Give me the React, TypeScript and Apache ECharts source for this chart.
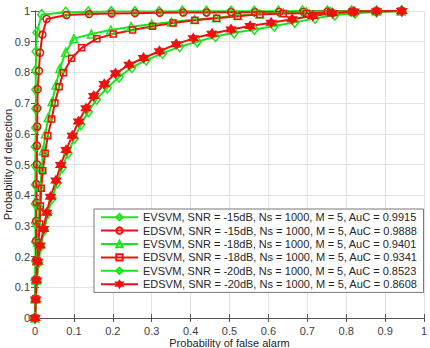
import React, { useEffect, useRef } from "react";
import * as echarts from "echarts";

// ROC curves: probability of false alarm (x) vs probability of detection (y)
const pfaEv15 = [0, 0, 0, 0.001, 0.001, 0.001, 0.001, 0.001, 0.001, 0.001, 0.002, 0.002, 0.002, 0.002, 0.003, 0.005, 0.017, 0.079, 0.137, 0.196, 0.257, 0.319, 0.379, 0.441, 0.504, 0.564, 0.626, 0.688, 0.752, 0.814, 0.878, 0.943];
const pdEv15 = [0, 0.062, 0.124, 0.186, 0.248, 0.31, 0.372, 0.434, 0.496, 0.558, 0.62, 0.682, 0.744, 0.806, 0.868, 0.93, 0.988, 0.996, 0.997, 0.998, 0.998, 0.998, 0.999, 0.999, 0.999, 0.999, 0.999, 1, 1, 1, 1, 1];

const pfaEd15 = [0, 0.001, 0.002, 0.003, 0.003, 0.003, 0.004, 0.004, 0.005, 0.005, 0.006, 0.006, 0.007, 0.01, 0.013, 0.019, 0.03, 0.081, 0.139, 0.197, 0.257, 0.321, 0.381, 0.441, 0.504, 0.566, 0.628, 0.69, 0.752, 0.814, 0.878, 0.943];
const pdEd15 = [0, 0.064, 0.126, 0.189, 0.252, 0.316, 0.376, 0.436, 0.5, 0.561, 0.623, 0.683, 0.745, 0.805, 0.864, 0.923, 0.974, 0.987, 0.99, 0.992, 0.993, 0.994, 0.995, 0.995, 0.996, 0.996, 0.997, 0.997, 0.998, 0.998, 0.999, 1];

const pfaEv18 = [0, 0.001, 0.003, 0.005, 0.007, 0.009, 0.011, 0.014, 0.017, 0.021, 0.027, 0.034, 0.044, 0.054, 0.064, 0.079, 0.1, 0.145, 0.195, 0.247, 0.3, 0.351, 0.41, 0.466, 0.521, 0.578, 0.638, 0.698, 0.76, 0.818, 0.878, 0.941];
const pdEv18 = [0, 0.062, 0.124, 0.186, 0.247, 0.308, 0.368, 0.428, 0.487, 0.545, 0.6, 0.653, 0.705, 0.759, 0.813, 0.866, 0.91, 0.925, 0.938, 0.949, 0.957, 0.964, 0.972, 0.978, 0.985, 0.99, 0.994, 0.996, 0.997, 0.998, 1, 1];

const pfaEd18 = [0, 0.002, 0.004, 0.006, 0.009, 0.012, 0.014, 0.016, 0.02, 0.026, 0.033, 0.043, 0.051, 0.062, 0.073, 0.094, 0.12, 0.159, 0.201, 0.251, 0.302, 0.355, 0.411, 0.467, 0.521, 0.578, 0.638, 0.698, 0.76, 0.82, 0.878, 0.941];
const pdEd18 = [0, 0.062, 0.124, 0.186, 0.246, 0.306, 0.365, 0.423, 0.48, 0.537, 0.594, 0.648, 0.7, 0.753, 0.799, 0.846, 0.88, 0.91, 0.925, 0.938, 0.95, 0.961, 0.97, 0.976, 0.983, 0.989, 0.992, 0.993, 0.994, 0.995, 0.999, 1];

const pfaEv20 = [0, 0.002, 0.005, 0.009, 0.015, 0.024, 0.033, 0.044, 0.057, 0.07, 0.085, 0.101, 0.118, 0.137, 0.158, 0.186, 0.216, 0.249, 0.286, 0.328, 0.372, 0.417, 0.464, 0.512, 0.564, 0.615, 0.668, 0.72, 0.771, 0.823, 0.878, 0.943];
const pdEv20 = [0, 0.06, 0.12, 0.18, 0.233, 0.287, 0.34, 0.39, 0.44, 0.49, 0.537, 0.585, 0.63, 0.672, 0.712, 0.75, 0.785, 0.816, 0.84, 0.862, 0.884, 0.9, 0.917, 0.929, 0.94, 0.951, 0.963, 0.976, 0.987, 0.993, 0.997, 1];

const pfaEd20 = [0, 0.002, 0.004, 0.007, 0.013, 0.022, 0.03, 0.04, 0.054, 0.066, 0.08, 0.096, 0.112, 0.131, 0.151, 0.178, 0.207, 0.242, 0.279, 0.32, 0.363, 0.407, 0.455, 0.504, 0.553, 0.607, 0.661, 0.714, 0.765, 0.82, 0.878, 0.943];
const pdEd20 = [0, 0.06, 0.122, 0.183, 0.236, 0.29, 0.343, 0.395, 0.448, 0.498, 0.547, 0.594, 0.64, 0.683, 0.723, 0.762, 0.797, 0.825, 0.847, 0.869, 0.892, 0.911, 0.926, 0.94, 0.951, 0.962, 0.973, 0.984, 0.993, 0.998, 0.999, 1];

const seriesNames = [
  "EVSVM, SNR = -15dB, Ns = 1000, M = 5, AuC = 0.9915",
  "EDSVM, SNR = -15dB, Ns = 1000, M = 5, AuC = 0.9888",
  "EVSVM, SNR = -18dB, Ns = 1000, M = 5, AuC = 0.9401",
  "EDSVM, SNR = -18dB, Ns = 1000, M = 5, AuC = 0.9341",
  "EVSVM, SNR = -20dB, Ns = 1000, M = 5, AuC = 0.8523",
  "EDSVM, SNR = -20dB, Ns = 1000, M = 5, AuC = 0.8608",
];

const GREEN = "#19e619";
const RED = "#f01010";
const HEXAGRAM =
  "path://M10 0L12.89 5L18.66 5L15.77 10L18.66 15L12.89 15L10 20L7.11 15L1.34 15L4.23 10L1.34 5L7.11 5Z";
const FONT = "'Liberation Sans', Arial, sans-serif";

function curve(
  name: string,
  xs: number[],
  ys: number[],
  color: string,
  symbol: string,
  symbolSize: number | number[],
  filled: boolean
) {
  return {
    type: "line",
    name,
    data: xs.map((x, i) => [x, ys[i]]),
    symbol,
    symbolSize,
    showSymbol: true,
    clip: false,
    lineStyle: { color, width: 2 },
    itemStyle: {
      color: filled ? color : "rgba(255,255,255,0)",
      borderColor: color,
      borderWidth: 1.5,
    },
    emphasis: { disabled: true },
  };
}

const tickFmt = (v: number) => String(Math.round(v * 10) / 10);

export default function App() {
  const ref = useRef<HTMLDivElement>(null);

  useEffect(() => {
    if (!ref.current) return;
    const chart = echarts.init(ref.current, undefined, { renderer: "svg" });
    const axisLine = { show: true, lineStyle: { color: "#555", width: 1 } };
    const axisTick = { show: true, inside: true, length: 4, lineStyle: { color: "#555" } };
    chart.setOption({
      animation: false,
      backgroundColor: "#fff",
      textStyle: { fontFamily: FONT },
      grid: {
        left: 35,
        right: 6,
        top: 11,
        bottom: 30,
        containLabel: false,
        outerBoundsMode: "none",
      },
      legend: {
        orient: "vertical",
        left: 94,
        top: 209,
        backgroundColor: "#fff",
        borderColor: "#777",
        borderWidth: 1,
        borderRadius: 0,
        padding: [1.5, 6, 1.5, 6],
        itemWidth: 37,
        itemHeight: 8,
        itemGap: 0,
        textStyle: { fontSize: 11, color: "#262626", lineHeight: 13.4, fontFamily: FONT },
        data: seriesNames,
      },
      xAxis: [
        {
          type: "value",
          min: 0,
          max: 1,
          interval: 0.1,
          name: "Probability of false alarm",
          nameLocation: "middle",
          nameGap: 19,
          nameMoveOverlap: false,
          nameTextStyle: { fontSize: 11, color: "#262626" },
          axisLine,
          axisTick,
          axisLabel: { fontSize: 11, color: "#404040", margin: 7, formatter: tickFmt },
          splitLine: { show: true, lineStyle: { color: "#e3e3e3", width: 1 } },
        },
        {
          type: "value",
          position: "top",
          min: 0,
          max: 1,
          interval: 0.1,
          axisLine,
          axisTick,
          axisLabel: { show: false },
          splitLine: { show: false },
        },
      ],
      yAxis: [
        {
          type: "value",
          min: 0,
          max: 1,
          interval: 0.1,
          name: "Probability of detection",
          nameLocation: "middle",
          nameGap: 22,
          nameMoveOverlap: false,
          nameTextStyle: { fontSize: 11, color: "#262626" },
          axisLine,
          axisTick,
          axisLabel: { fontSize: 11, color: "#404040", margin: 5, formatter: tickFmt },
          splitLine: { show: true, lineStyle: { color: "#e3e3e3", width: 1 } },
        },
        {
          type: "value",
          position: "right",
          min: 0,
          max: 1,
          interval: 0.1,
          axisLine,
          axisTick,
          axisLabel: { show: false },
          splitLine: { show: false },
        },
      ],
      series: [
        curve(seriesNames[0], pfaEv15, pdEv15, GREEN, "diamond", [8, 10], false),
        curve(seriesNames[1], pfaEd15, pdEd15, RED, "circle", 7, false),
        curve(seriesNames[2], pfaEv18, pdEv18, GREEN, "triangle", 8, false),
        curve(seriesNames[3], pfaEd18, pdEd18, RED, "rect", 6, false),
        curve(seriesNames[4], pfaEv20, pdEv20, GREEN, "diamond", [8, 10], false),
        curve(seriesNames[5], pfaEd20, pdEd20, RED, HEXAGRAM, 9, true),
      ],
    });
    return () => chart.dispose();
  }, []);

  return (
    <div
      ref={ref}
      style={{ position: "absolute", left: 0, top: 0, width: 430, height: 348 }}
    />
  );
}
